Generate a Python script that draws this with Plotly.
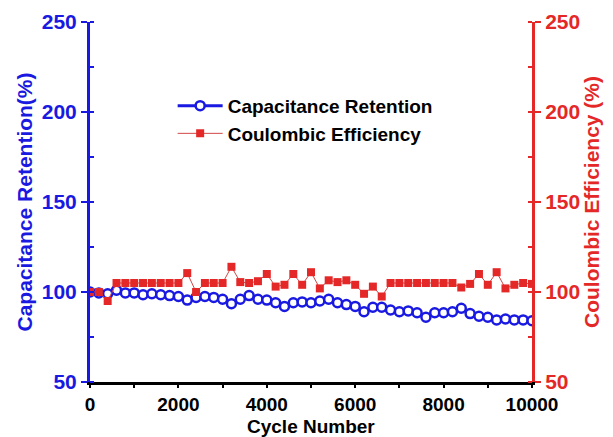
import plotly.graph_objects as go

cycles = list(range(0, 10001, 200))

capacitance_retention = [100, 99.5, 99, 101, 99.5, 99.5, 98.5, 99, 98.5, 98,
                         97.5, 95.5, 97, 97.5, 97, 96, 93.5, 96, 98, 96,
                         95.5, 94, 92, 94, 94.5, 94, 95, 96, 94, 93,
                         92, 89, 91.5, 91.5, 90, 89, 89.5, 88.5, 86, 88.5,
                         88.5, 89, 91, 88, 86.5, 86, 84.5, 85, 84.5, 84.5, 84]

coulombic_efficiency = [100, 100, 95, 105, 105, 105, 105, 105, 105, 105,
                        105, 110.5, 100, 105, 105, 105, 114, 105.5, 105, 106,
                        110, 103, 104, 110, 104, 111, 102, 106.5, 105.5, 106.5,
                        104, 99, 103, 97.5, 105, 105, 105, 105, 105, 105,
                        105, 105, 102.5, 104.5, 110, 104, 111, 102, 104, 105, 104.5]

x_ticks = [0, 2000, 4000, 6000, 8000, 10000]
x_tick_labels = ["0", "2000", "4000", "6000", "8000", "10000"]
y_ticks = [50, 100, 150, 200, 250]
y_tick_labels = ["50", "100", "150", "200", "250"]

BLUE = "rgb(25,25,225)"
RED = "rgb(228,40,40)"
FONT = "Arial, Liberation Sans, sans-serif"

fig = go.Figure()
fig.add_trace(go.Scatter(
    x=cycles, y=capacitance_retention, name="Capacitance Retention",
    mode="lines+markers",
    line=dict(color=BLUE, width=3),
    marker=dict(symbol="circle", size=9, color="white",
                line=dict(color=BLUE, width=2.5)),
    yaxis="y"))
fig.add_trace(go.Scatter(
    x=cycles, y=coulombic_efficiency, name="Coulombic Efficiency",
    mode="lines+markers",
    line=dict(color="rgb(210,70,70)", width=1),
    marker=dict(symbol="square", size=8, color=RED),
    yaxis="y2"))

fig.update_layout(
    width=613, height=437,
    margin=dict(l=82, r=89, t=14, b=63, autoexpand=False),
    plot_bgcolor="white", paper_bgcolor="white",
    font=dict(family=FONT),
    showlegend=True,
    legend=dict(x=0.187, y=0.82, xanchor="left", yanchor="top",
                bgcolor="rgba(0,0,0,0)", itemwidth=45,
                font=dict(size=19, color="black", family=FONT, weight="bold")),
    xaxis=dict(range=[0, 10000], tickvals=x_ticks, ticktext=x_tick_labels,
               showline=True, linecolor="black", linewidth=3,
               ticks="outside", ticklen=3, tickwidth=2, tickcolor="black",
               minor=dict(dtick=1000, ticks="outside", ticklen=3, tickwidth=2, tickcolor="black"),
               showgrid=False, zeroline=False, automargin=False,
               tickfont=dict(size=19, color="black", family=FONT, weight="bold")),
    yaxis=dict(range=[50, 250], tickvals=y_ticks, ticktext=y_tick_labels,
               showline=True, linecolor=BLUE, linewidth=3,
               ticks="outside", ticklen=6, tickwidth=2, tickcolor=BLUE,
               minor=dict(dtick=25, tick0=0, ticks="inside", ticklen=4, tickwidth=2, tickcolor=BLUE),
               showgrid=False, zeroline=False, automargin=False,
               tickfont=dict(size=21, color=BLUE, family=FONT, weight="bold"),
               title=dict(text="Capacitance Retention(%)", standoff=4,
                          font=dict(size=21, color=BLUE, family=FONT, weight="bold"))),
    yaxis2=dict(range=[50, 250], tickvals=y_ticks, ticktext=y_tick_labels,
                overlaying="y", side="right",
                showline=True, linecolor=RED, linewidth=3,
                ticks="outside", ticklen=6, tickwidth=2, tickcolor=RED,
                minor=dict(dtick=25, tick0=0, ticks="inside", ticklen=4, tickwidth=2, tickcolor=RED),
                showgrid=False, zeroline=False, automargin=False,
                tickfont=dict(size=21, color=RED, family=FONT, weight="bold"),
                title=dict(text="Coulombic Efficiency (%)", standoff=2,
                           font=dict(size=21, color=RED, family=FONT, weight="bold"))),
    annotations=[dict(text="Cycle Number", xref="paper", yref="paper",
                      x=0.5, y=-0.124, xanchor="center", yanchor="middle",
                      showarrow=False,
                      font=dict(size=19, color="black", family=FONT, weight="bold"))],
)

fig.write_html("out.html")
